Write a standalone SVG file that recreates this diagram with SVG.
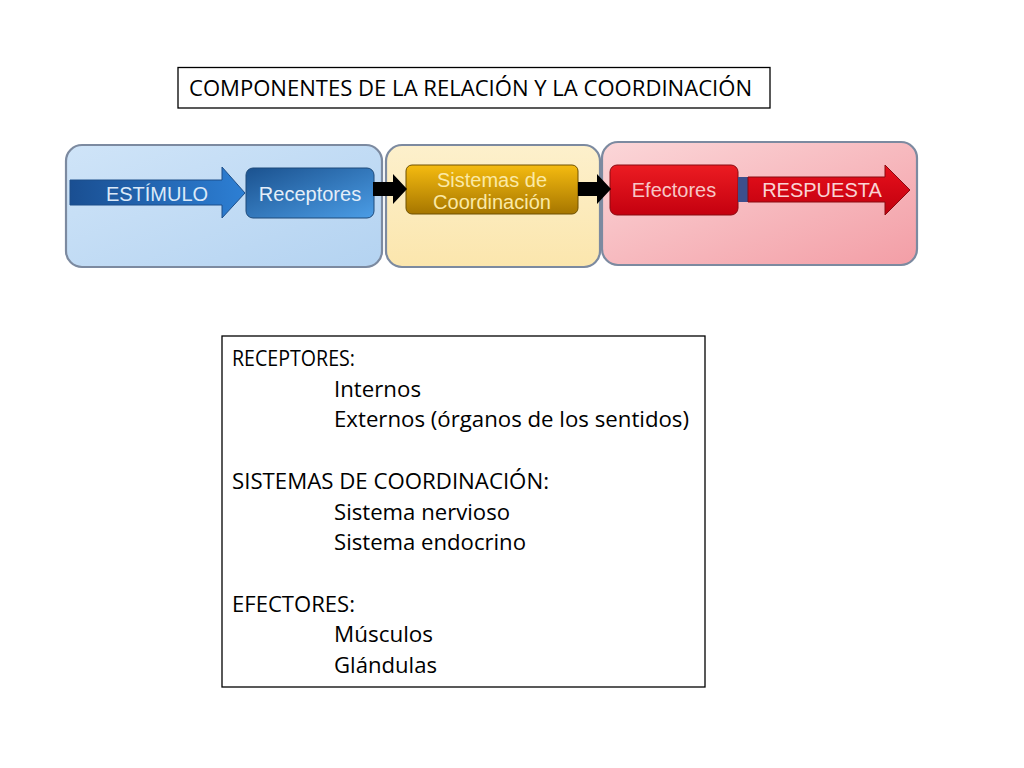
<svg xmlns="http://www.w3.org/2000/svg" width="1024" height="768" viewBox="0 0 1024 768">
<defs>
<style>
.t{font-family:"Open Sans","Noto Sans","Liberation Sans",sans-serif;font-size:22.5px;fill:#000}
.d{font-family:"Liberation Sans",Arial,sans-serif;font-size:20px}
.frame{fill:#fff;stroke:#000;stroke-width:1.3}
.panel{stroke:#7c8aa0;stroke-width:2.2}
</style>
<linearGradient id="gBluePanel" x1="0" y1="0" x2="1" y2="1"><stop offset="0" stop-color="#cfe4f8"/><stop offset="1" stop-color="#b4d3f1"/></linearGradient>
<linearGradient id="gYelPanel" x1="0" y1="0" x2="0" y2="1"><stop offset="0" stop-color="#fdf0cc"/><stop offset="1" stop-color="#fbe6ad"/></linearGradient>
<linearGradient id="gPinkPanel" x1="0" y1="0" x2="1" y2="1"><stop offset="0" stop-color="#fbd6d8"/><stop offset="1" stop-color="#f39ea6"/></linearGradient>
<linearGradient id="gBlueArrow" x1="0" y1="0" x2="1" y2="0"><stop offset="0" stop-color="#1a4f92"/><stop offset="1" stop-color="#2d7fd4"/></linearGradient>
<linearGradient id="gRecep" x1="0" y1="0" x2="1" y2="1"><stop offset="0" stop-color="#1b528f"/><stop offset="1" stop-color="#4b9de6"/></linearGradient>
<linearGradient id="gSis" x1="0" y1="0" x2="0" y2="1"><stop offset="0" stop-color="#f5bb10"/><stop offset="1" stop-color="#a67600"/></linearGradient>
<linearGradient id="gEfe" x1="0" y1="0" x2="0" y2="1"><stop offset="0" stop-color="#ec1c22"/><stop offset="1" stop-color="#c4000f"/></linearGradient>
<linearGradient id="gResp" x1="0" y1="0" x2="0" y2="1"><stop offset="0" stop-color="#e8101c"/><stop offset="1" stop-color="#c0000e"/></linearGradient>
</defs>
<rect width="1024" height="768" fill="#fff"/>

<g id="title">
<rect class="frame" x="178" y="67.5" width="592" height="40.5"/>
<text class="t" x="189" y="96" textLength="563" lengthAdjust="spacingAndGlyphs">COMPONENTES DE LA RELACIÓN Y LA COORDINACIÓN</text>
</g>

<g id="panel-receptores">
<rect class="panel" x="66" y="145" width="316" height="122" rx="16" fill="url(#gBluePanel)"/>
</g>
<g id="panel-sistemas">
<rect class="panel" x="386" y="145" width="214" height="122" rx="16" fill="url(#gYelPanel)"/>
</g>
<g id="panel-efectores">
<rect class="panel" x="602" y="142" width="315" height="123" rx="16" fill="url(#gPinkPanel)"/>
</g>

<g id="estimulo">
<polygon points="70,180 222,180 222,167 245,193 222,218 222,205 70,205" fill="url(#gBlueArrow)" stroke="#1d4f8a" stroke-width="1"/>
<text class="d" x="157" y="201" text-anchor="middle" fill="#dbe9f8">ESTÍMULO</text>
</g>

<g id="receptores">
<rect x="246" y="168" width="128" height="50" rx="7" fill="url(#gRecep)" stroke="#1e4a7a" stroke-width="1"/>
<text class="d" x="310" y="201" text-anchor="middle" fill="#e4eef9" font-size="19.5">Receptores</text>
</g>

<g id="sistemas">
<rect x="406" y="165" width="172" height="49" rx="6" fill="url(#gSis)" stroke="#6e5000" stroke-width="1"/>
<text class="d" x="492" y="187" text-anchor="middle" fill="#fbe9a6">Sistemas de</text>
<text class="d" x="492" y="209" text-anchor="middle" fill="#fbe9a6">Coordinación</text>
</g>

<g id="efectores">
<rect x="610" y="165" width="128" height="50" rx="7" fill="url(#gEfe)" stroke="#8a0a10" stroke-width="1"/>
<text class="d" x="674" y="197" text-anchor="middle" fill="#f7c6c6">Efectores</text>
</g>

<g id="respuesta">
<rect x="738" y="177" width="10" height="25" fill="#3d4f8c"/>
<polygon points="748,177 885,177 885,165 910,190 885,215 885,202 748,202" fill="url(#gResp)" stroke="#8a0a10" stroke-width="1"/>
<text class="d" x="822" y="197" text-anchor="middle" fill="#f9d4d4">RESPUESTA</text>
</g>

<g id="connectors">
<polygon points="373,182 393,182 393,174 407,189 393,204 393,196 373,196" fill="#000"/>
<polygon points="578,182 597,182 597,174 611,189 597,204 597,196 578,196" fill="#000"/>
</g>

<g id="detalle">
<rect class="frame" x="222" y="336" width="483" height="351"/>
<text class="t" x="232" y="366" textLength="123" lengthAdjust="spacingAndGlyphs">RECEPTORES:</text>
<text class="t" x="334" y="396.7" textLength="87" lengthAdjust="spacingAndGlyphs">Internos</text>
<text class="t" x="334" y="427.4" textLength="355" lengthAdjust="spacingAndGlyphs">Externos (órganos de los sentidos)</text>
<text class="t" x="232" y="488.8" textLength="317" lengthAdjust="spacingAndGlyphs">SISTEMAS DE COORDINACIÓN:</text>
<text class="t" x="334" y="519.5" textLength="176" lengthAdjust="spacingAndGlyphs">Sistema nervioso</text>
<text class="t" x="334" y="550.2" textLength="192" lengthAdjust="spacingAndGlyphs">Sistema endocrino</text>
<text class="t" x="232" y="611.6" textLength="123" lengthAdjust="spacingAndGlyphs">EFECTORES:</text>
<text class="t" x="334" y="642.3" textLength="99" lengthAdjust="spacingAndGlyphs">Músculos</text>
<text class="t" x="334" y="673" textLength="103" lengthAdjust="spacingAndGlyphs">Glándulas</text>
</g>
</svg>
